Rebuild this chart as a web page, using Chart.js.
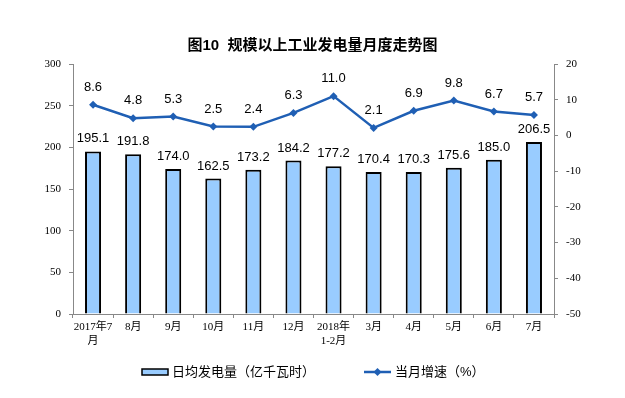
<!DOCTYPE html>
<html>
<head>
<meta charset="utf-8">
<script src="https://cdn.jsdelivr.net/npm/chart.js@4.4.0/dist/chart.umd.min.js"></script>
<style>
    html, body { margin: 0; padding: 0; background: #fff; }
    #wrap { width: 625px; height: 398px; }
</style>
</head>
<body>
<div id="wrap"><canvas id="powerChart" width="625" height="398"></canvas></div>
<script>
const categories = [['2017年7', '月'], '8月', '9月', '10月', '11月', '12月', ['2018年', '1-2月'], '3月', '4月', '5月', '6月', '7月'];
const dailyOutput = [195.1, 191.8, 174.0, 162.5, 173.2, 184.2, 177.2, 170.4, 170.3, 175.6, 185.0, 206.5];
const growthRate = [8.6, 4.8, 5.3, 2.5, 2.4, 6.3, 11.0, 2.1, 6.9, 9.8, 6.7, 5.7];
const leftTicks = [0, 300, 50];
const rightTicks = [-50, 20, 10];

const barFill = '#99CCFF';
const lineColor = '#1F5FB4';
const serifFont = "'Liberation Serif', 'Noto Sans CJK SC', serif";
const sansFont = "'Liberation Sans', 'Noto Sans CJK SC', sans-serif";

// value labels above bars and points
const valueLabels = {
    id: 'valueLabels',
    afterDatasetsDraw: (chart) => {
        const ctx = chart.ctx;
        ctx.save();
        ctx.font = '13px ' + sansFont;
        ctx.fillStyle = '#000';
        ctx.textAlign = 'center';
        ctx.textBaseline = 'bottom';
        chart.data.datasets.forEach((ds, i) => {
            const meta = chart.getDatasetMeta(i);
            const gap = ds.type === 'line' ? 11 : 6;
            meta.data.forEach((el, j) => {
                ctx.fillText(ds.data[j].toFixed(1), el.x, el.y - gap);
            });
        });
        ctx.restore();
    }
};

// bottom legend
const bottomLegend = {
    id: 'bottomLegend',
    afterDraw: (chart) => {
        const ctx = chart.ctx;
        ctx.save();
        ctx.font = '13px ' + sansFont;
        ctx.fillStyle = '#000';
        ctx.textBaseline = 'middle';
        const y = 372;
        // bar entry
        ctx.fillStyle = barFill;
        ctx.fillRect(142, y - 3, 26, 6);
        ctx.strokeStyle = '#000';
        ctx.lineWidth = 1.5;
        ctx.strokeRect(142, y - 3, 26, 6);
        ctx.fillStyle = '#000';
        ctx.fillText('日均发电量（亿千瓦时）', 172, y);
        // line entry
        ctx.strokeStyle = lineColor;
        ctx.lineWidth = 2.5;
        ctx.beginPath();
        ctx.moveTo(364, y);
        ctx.lineTo(391, y);
        ctx.stroke();
        ctx.fillStyle = lineColor;
        ctx.beginPath();
        ctx.moveTo(377.5, y - 4);
        ctx.lineTo(381.5, y);
        ctx.lineTo(377.5, y + 4);
        ctx.lineTo(373.5, y);
        ctx.closePath();
        ctx.fill();
        ctx.fillStyle = '#000';
        ctx.fillText('当月增速（%）', 395, y);
        ctx.restore();
    }
};

const ctx = document.getElementById('powerChart').getContext('2d');
new Chart(ctx, {
    data: {
        labels: categories,
        datasets: [
            {
                type: 'line',
                label: '当月增速（%）',
                data: growthRate,
                yAxisID: 'y1',
                borderColor: lineColor,
                backgroundColor: lineColor,
                borderWidth: 2.5,
                pointStyle: 'rectRot',
                pointRadius: 4,
                pointBorderWidth: 0,
                tension: 0,
                order: 0
            },
            {
                type: 'bar',
                label: '日均发电量（亿千瓦时）',
                data: dailyOutput,
                yAxisID: 'y',
                backgroundColor: barFill,
                borderColor: '#000',
                borderWidth: 2,
                barPercentage: 0.4,
                categoryPercentage: 1,
                order: 1
            }
        ]
    },
    options: {
        responsive: false,
        animation: false,
        layout: { padding: { top: 37, left: 0, right: 0, bottom: 0 } },
        plugins: {
            legend: { display: false },
            tooltip: { enabled: false },
            title: {
                display: true,
                text: '图10  规模以上工业发电量月度走势图',
                color: '#000',
                font: { size: 15, weight: 'bold', family: sansFont },
                padding: { top: 0, bottom: 9 }
            }
        },
        scales: {
            x: {
                grid: { display: true, drawOnChartArea: false, tickLength: 4, color: '#888', offset: true },
                border: { color: '#888' },
                ticks: { color: '#000', font: { size: 11, family: serifFont }, padding: 3, maxRotation: 0, autoSkip: false },
                afterFit: (scale) => { scale.height = 84; }
            },
            y: {
                position: 'left',
                min: leftTicks[0],
                max: leftTicks[1],
                ticks: { stepSize: leftTicks[2], color: '#000', font: { size: 11, family: serifFont }, padding: 8 },
                grid: { display: true, drawOnChartArea: false, tickLength: 4, color: '#888' },
                border: { color: '#888' },
                afterFit: (scale) => { scale.width = 73; }
            },
            y1: {
                position: 'right',
                min: rightTicks[0],
                max: rightTicks[1],
                ticks: { stepSize: rightTicks[2], color: '#000', font: { size: 11, family: serifFont }, padding: 8 },
                grid: { display: true, drawOnChartArea: false, tickLength: 4, color: '#888' },
                border: { color: '#888' },
                afterFit: (scale) => { scale.width = 71; }
            }
        }
    },
    plugins: [valueLabels, bottomLegend]
});
</script>
</body>
</html>
